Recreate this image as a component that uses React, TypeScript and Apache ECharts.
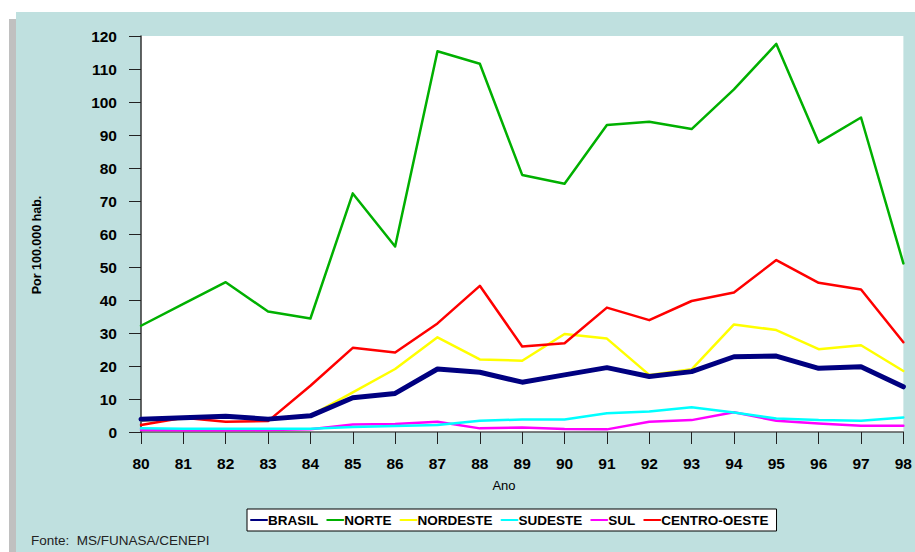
import React, { useEffect, useRef } from "react";
import * as echarts from "echarts";

const years = ["80","81","82","83","84","85","86","87","88","89","90","91","92","93","94","95","96","97","98"];
const brasil = [3.9, 4.3, 4.8, 3.9, 4.9, 10.4, 11.7, 19.1, 18.1, 15.1, 17.3, 19.5, 16.8, 18.3, 22.8, 23.0, 19.3, 19.8, 13.7];
const norte = [32.2, 38.8, 45.4, 36.5, 34.4, 72.3, 56.2, 115.4, 111.6, 77.9, 75.2, 93.0, 94.0, 91.8, 103.8, 117.6, 87.7, 95.3, 51.1];
const nordeste = [3.5, 4.0, 4.5, 4.0, 5.0, 12.0, 19.1, 28.7, 22.0, 21.6, 29.7, 28.3, 17.3, 19.0, 32.6, 30.9, 25.1, 26.3, 18.5];
const sudeste = [1.1, 1.0, 1.0, 1.0, 1.0, 1.5, 1.8, 2.1, 3.4, 3.8, 3.8, 5.7, 6.2, 7.5, 5.9, 4.1, 3.6, 3.4, 4.4];
const sul = [0.6, 0.5, 0.5, 0.6, 0.8, 2.3, 2.4, 3.1, 1.1, 1.4, 0.9, 0.8, 3.1, 3.6, 6.0, 3.4, 2.6, 1.9, 1.9];
const centroOeste = [2.1, 4.3, 3.1, 3.3, 14.0, 25.5, 24.1, 32.9, 44.3, 25.9, 26.9, 37.7, 33.9, 39.7, 42.3, 52.1, 45.2, 43.2, 27.2];

const SANS = "'Liberation Sans', Arial, sans-serif";

export default function App() {
  const ref = useRef<HTMLDivElement>(null);
  useEffect(() => {
    if (!ref.current) return;
    const chart = echarts.init(ref.current, undefined, { renderer: "svg" });
    const mk = (name: string, data: number[], color: string, width: number, z: number) => ({
      name,
      type: "line",
      data,
      symbol: "none",
      showSymbol: false,
      z,
      lineStyle: { color, width, cap: "round", join: "round" },
      itemStyle: { color },
    });
    chart.setOption({
      animation: false,
      backgroundColor: "#ffffff",
      graphic: [
        { type: "rect", z: -10, shape: { x: 9, y: 19, width: 8, height: 533 }, style: { fill: "#C0C0C0" } },
        { type: "rect", z: -9, shape: { x: 16, y: 12, width: 899, height: 540 }, style: { fill: "#BFE0DF" } },
        {
          type: "text", x: 37, y: 245, rotation: Math.PI / 2,
          style: { text: "Por 100.000 hab.", fill: "#000", font: `bold 12.5px ${SANS}`, textAlign: "center", textVerticalAlign: "middle" },
        },
        {
          type: "text", x: 504, y: 485,
          style: { text: "Ano", fill: "#000", font: `13px ${SANS}`, textAlign: "center", textVerticalAlign: "middle" },
        },
        {
          type: "text", x: 31, y: 540,
          style: { text: "Fonte:  MS/FUNASA/CENEPI", fill: "#222", font: `13.5px ${SANS}`, textAlign: "left", textVerticalAlign: "middle" },
        },
      ],
      grid: {
        left: 141, right: 10, top: 36, bottom: 120,
        show: true, backgroundColor: "#ffffff", borderWidth: 0,
      },
      legend: {
        left: 247, top: 509,
        backgroundColor: "#ffffff", borderColor: "#000", borderWidth: 1,
        padding: [4, 8, 4, 3],
        itemGap: 8, itemWidth: 16, itemHeight: 12,
        itemStyle: { opacity: 0 },
        textStyle: { fontFamily: SANS, fontWeight: "bold", fontSize: 13.5, color: "#000", padding: [0, 0, 0, -4] },
        data: ["BRASIL", "NORTE", "NORDESTE", "SUDESTE", "SUL", "CENTRO-OESTE"],
      },
      xAxis: {
        type: "category",
        data: years,
        boundaryGap: false,
        axisLine: { lineStyle: { color: "#555", width: 1.5 } },
        axisTick: { show: true, length: 12, inside: false, lineStyle: { color: "#222", width: 1 } },
        axisLabel: { margin: 23, color: "#000", fontFamily: SANS, fontWeight: "bold", fontSize: 15.5 },
        splitLine: { show: false },
      },
      yAxis: {
        type: "value",
        min: 0, max: 120, interval: 10,
        axisLine: { show: true, lineStyle: { color: "#333", width: 1.5 } },
        axisTick: { show: true, length: 12, inside: false, lineStyle: { color: "#222", width: 1 } },
        axisLabel: { margin: 24, color: "#000", fontFamily: SANS, fontWeight: "bold", fontSize: 15.5 },
        splitLine: { show: false },
      },
      series: [
        mk("NORTE", norte, "#00B000", 2.5, 2),
        mk("NORDESTE", nordeste, "#FFFF00", 2.5, 2),
        mk("SUDESTE", sudeste, "#00FFFF", 2.5, 3),
        mk("SUL", sul, "#FF00FF", 2.5, 2),
        mk("CENTRO-OESTE", centroOeste, "#FF0000", 2.5, 2),
        mk("BRASIL", brasil, "#000080", 5, 4),
      ],
    });
    return () => chart.dispose();
  }, []);
  return <div ref={ref} style={{ position: "fixed", left: 0, top: 0, width: 915, height: 552 }} />;
}
